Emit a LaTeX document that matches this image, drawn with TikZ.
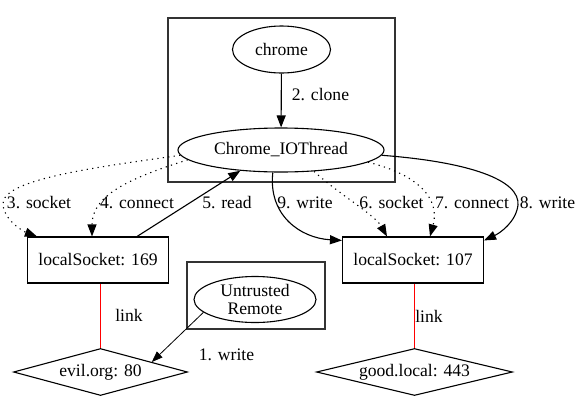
\documentclass[tikz,border=0pt]{standalone}
\usepackage{fontspec}
\setmainfont{Liberation Serif}
\usetikzlibrary{shapes.geometric,arrows.meta}
\begin{document}
\begin{tikzpicture}[x=1pt,y=-1pt,
		font=\fontsize{17.6}{18.5}\selectfont,
		proc/.style={draw,ellipse,line width=1.1pt,inner sep=0pt},
		sock/.style={draw,rectangle,line width=1.1pt,minimum width=141pt,minimum height=46pt},
		host/.style={draw,diamond,line width=1.1pt,inner sep=0pt,shape aspect=3.7,minimum height=47pt},
		cluster/.style={draw=black!80,line width=1.2pt},
		call/.style={line width=1.1pt,-{Triangle[length=12pt,width=9pt]}},
		sys/.style={call,dash pattern=on 1.2pt off 4.3pt},
		link/.style={red,line width=1.2pt},
		lbl/.style={inner sep=0pt}]
		\useasboundingbox (0,0) rectangle (581,400);
		% clusters
		\draw [cluster] (168,18) rectangle (395,182);
		\draw [cluster] (187,262) rectangle (325,329);
		% nodes
		\node [proc,minimum width=98pt,minimum height=47pt] (chrome) at (281.5,49.5) {chrome};
		\node [proc,minimum width=206pt,minimum height=44pt] (iothread) at (281,150) {Chrome\_IOThread};
		\node [proc,minimum width=122pt,minimum height=46pt,align=center] (remote) at (255,299.5) {Untrusted\\Remote};
		\node [sock] (sockA) at (98,260) {localSocket: 169};
		\node [sock] (sockB) at (413,260) {localSocket: 107};
		\node [host,minimum width=174pt] (evil) at (100.5,372) {evil.org: 80};
		\node [host,minimum width=196pt] (good) at (414.5,372) {good.local: 443};
		% edges
		\draw [call] (chrome) -- (iothread);
		\draw [sys] (iothread.183.5) .. controls (90,168) and (0,180) .. (3,205) .. controls (5,222) and (25,232) .. ([xshift=10pt]sockA.north west);
		\draw [sys] (iothread.186.5) .. controls (130,178) and (92,195) .. ([xshift=-6pt]sockA.north);
		\draw [call] ([xshift=-32pt]sockA.north east) -- (iothread.207.6);
		\draw [call] (iothread.250) .. controls (268,215) and (300,238) .. ([yshift=-4pt]sockB.north west);
		\draw [sys] (iothread.327) .. controls (340,195) and (375,215) .. ([xshift=-26pt]sockB.north);
		\draw [sys] (iothread.352) .. controls (420,175) and (440,200) .. ([xshift=17pt]sockB.north);
		\draw [call] (iothread.357) .. controls (470,162) and (520,180) .. (518,205) .. controls (516,222) and (500,233) .. ([yshift=-4pt]sockB.north east);
		\draw [link] (sockA.south -| evil.north) -- (evil.north);
		\draw [link] (sockB.south -| good.north) -- (good.north);
		\draw [call,line width=0.8pt,-{Triangle[length=11pt,width=8pt]}] (remote.194) -- (evil.11);
		% labels
		\node [lbl] (lclone) at (320.5,95) {2. clone};
		\node [lbl] (lsockA) at (39,203) {3. socket};
		\node [lbl] (lconnA) at (137,203) {4. connect};
		\node [lbl] (lread) at (227,203) {5. read};
		\node [lbl] (lsockB) at (391.5,203) {6. socket};
		\node [lbl] (lconnB) at (472,203) {7. connect};
		\node [lbl] (lwriteB) at (547.5,203) {8. write};
		\node [lbl] (lwriteA) at (305,203) {9. write};
		\node [lbl] (llinkA) at (129,315) {link};
		\node [lbl] (llinkB) at (429,316) {link};
		\node [lbl] (lremote) at (226.5,355) {1. write};
	\end{tikzpicture}
\end{document}
